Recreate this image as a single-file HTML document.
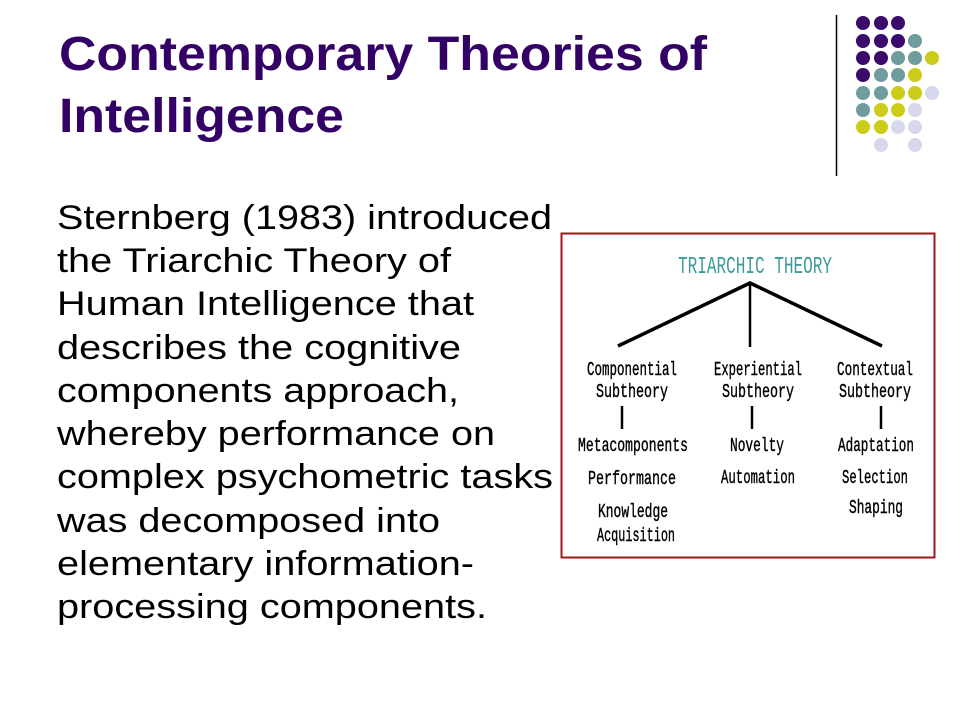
<!DOCTYPE html>
<html><head><meta charset="utf-8"><style>
html,body{margin:0;padding:0;background:#fff;width:960px;height:720px;overflow:hidden}
svg{display:block}
.b{font-family:"Liberation Sans",Arial,sans-serif;font-size:34px;fill:#000}
.t{font-family:"Liberation Sans",Arial,sans-serif;font-size:48px;font-weight:bold;fill:#330066}
.d{font-family:"Liberation Mono","DejaVu Sans Mono",monospace;font-size:19px;fill:#000;stroke:#000;stroke-width:0.4}
</style></head><body>
<svg width="960" height="720" viewBox="0 0 960 720" xmlns="http://www.w3.org/2000/svg">
<text class="t" x="59" y="70" textLength="648" lengthAdjust="spacingAndGlyphs">Contemporary Theories of</text>
<text class="t" x="59" y="132" textLength="285" lengthAdjust="spacingAndGlyphs">Intelligence</text>
<line x1="836.5" y1="15" x2="836.5" y2="176" stroke="#000" stroke-width="1.5"/>
<g>
<circle cx="863" cy="23" r="7" fill="#3b0a6b"/><circle cx="881" cy="23" r="7" fill="#3b0a6b"/><circle cx="898" cy="23" r="7" fill="#3b0a6b"/>
<circle cx="863" cy="41" r="7" fill="#3b0a6b"/><circle cx="881" cy="41" r="7" fill="#3b0a6b"/><circle cx="898" cy="41" r="7" fill="#3b0a6b"/><circle cx="915" cy="41" r="7" fill="#6f9c9c"/>
<circle cx="863" cy="58" r="7" fill="#3b0a6b"/><circle cx="881" cy="58" r="7" fill="#3b0a6b"/><circle cx="898" cy="58" r="7" fill="#6f9c9c"/><circle cx="915" cy="58" r="7" fill="#6f9c9c"/><circle cx="932" cy="58" r="7" fill="#cccc1a"/>
<circle cx="863" cy="75" r="7" fill="#3b0a6b"/><circle cx="881" cy="75" r="7" fill="#6f9c9c"/><circle cx="898" cy="75" r="7" fill="#6f9c9c"/><circle cx="915" cy="75" r="7" fill="#cccc1a"/>
<circle cx="863" cy="93" r="7" fill="#6f9c9c"/><circle cx="881" cy="93" r="7" fill="#6f9c9c"/><circle cx="898" cy="93" r="7" fill="#cccc1a"/><circle cx="915" cy="93" r="7" fill="#cccc1a"/><circle cx="932" cy="93" r="7" fill="#d8d8ec"/>
<circle cx="863" cy="110" r="7" fill="#6f9c9c"/><circle cx="881" cy="110" r="7" fill="#cccc1a"/><circle cx="898" cy="110" r="7" fill="#cccc1a"/><circle cx="915" cy="110" r="7" fill="#d8d8ec"/>
<circle cx="863" cy="127" r="7" fill="#cccc1a"/><circle cx="881" cy="127" r="7" fill="#cccc1a"/><circle cx="898" cy="127" r="7" fill="#d8d8ec"/><circle cx="915" cy="127" r="7" fill="#d8d8ec"/>
<circle cx="881" cy="145" r="7" fill="#d8d8ec"/><circle cx="915" cy="145" r="7" fill="#d8d8ec"/>
</g>
<g class="b">
<text x="57" y="229" textLength="495" lengthAdjust="spacingAndGlyphs">Sternberg (1983) introduced</text>
<text x="57" y="272" textLength="394" lengthAdjust="spacingAndGlyphs">the Triarchic Theory of</text>
<text x="57" y="315" textLength="417" lengthAdjust="spacingAndGlyphs">Human Intelligence that</text>
<text x="57" y="359" textLength="404" lengthAdjust="spacingAndGlyphs">describes the cognitive</text>
<text x="57" y="402" textLength="402" lengthAdjust="spacingAndGlyphs">components approach,</text>
<text x="57" y="445" textLength="438" lengthAdjust="spacingAndGlyphs">whereby performance on</text>
<text x="57" y="488" textLength="496" lengthAdjust="spacingAndGlyphs">complex psychometric tasks</text>
<text x="57" y="532" textLength="383" lengthAdjust="spacingAndGlyphs">was decomposed into</text>
<text x="57" y="575" textLength="417" lengthAdjust="spacingAndGlyphs">elementary information-</text>
<text x="57" y="618" textLength="430" lengthAdjust="spacingAndGlyphs">processing components.</text>
</g>
<rect x="561.5" y="233.5" width="373" height="324" fill="#fff" stroke="#a01818" stroke-width="2"/>
<text x="678" y="273" font-family="Liberation Mono,monospace" font-size="24" fill="#3f9a9a" textLength="154" lengthAdjust="spacingAndGlyphs">TRIARCHIC THEORY</text>
<polyline points="618,346 750,283 882,346" fill="none" stroke="#000" stroke-width="3.5"/>
<line x1="750" y1="283" x2="750" y2="347" stroke="#000" stroke-width="2.5"/>
<g class="d" text-anchor="middle">
<text x="632" y="375" textLength="90" lengthAdjust="spacingAndGlyphs">Componential</text>
<text x="632" y="397" textLength="72" lengthAdjust="spacingAndGlyphs">Subtheory</text>
<text x="758" y="375" textLength="88" lengthAdjust="spacingAndGlyphs">Experiential</text>
<text x="758" y="397" textLength="72" lengthAdjust="spacingAndGlyphs">Subtheory</text>
<text x="875" y="375" textLength="76" lengthAdjust="spacingAndGlyphs">Contextual</text>
<text x="875" y="397" textLength="72" lengthAdjust="spacingAndGlyphs">Subtheory</text>
<text x="633" y="451" textLength="110" lengthAdjust="spacingAndGlyphs">Metacomponents</text>
<text x="632" y="484" textLength="88" lengthAdjust="spacingAndGlyphs">Performance</text>
<text x="633" y="517" textLength="70" lengthAdjust="spacingAndGlyphs">Knowledge</text>
<text x="636" y="541" textLength="78" lengthAdjust="spacingAndGlyphs">Acquisition</text>
<text x="757" y="451" textLength="54" lengthAdjust="spacingAndGlyphs">Novelty</text>
<text x="758" y="483" textLength="74" lengthAdjust="spacingAndGlyphs">Automation</text>
<text x="876" y="451" textLength="76" lengthAdjust="spacingAndGlyphs">Adaptation</text>
<text x="875" y="483" textLength="66" lengthAdjust="spacingAndGlyphs">Selection</text>
<text x="876" y="513" textLength="54" lengthAdjust="spacingAndGlyphs">Shaping</text>
</g>
<line x1="622" y1="406" x2="622" y2="429" stroke="#000" stroke-width="2.5"/>
<line x1="752" y1="406" x2="752" y2="429" stroke="#000" stroke-width="2.5"/>
<line x1="881" y1="406" x2="881" y2="429" stroke="#000" stroke-width="2.5"/>
</svg>
</body></html>
